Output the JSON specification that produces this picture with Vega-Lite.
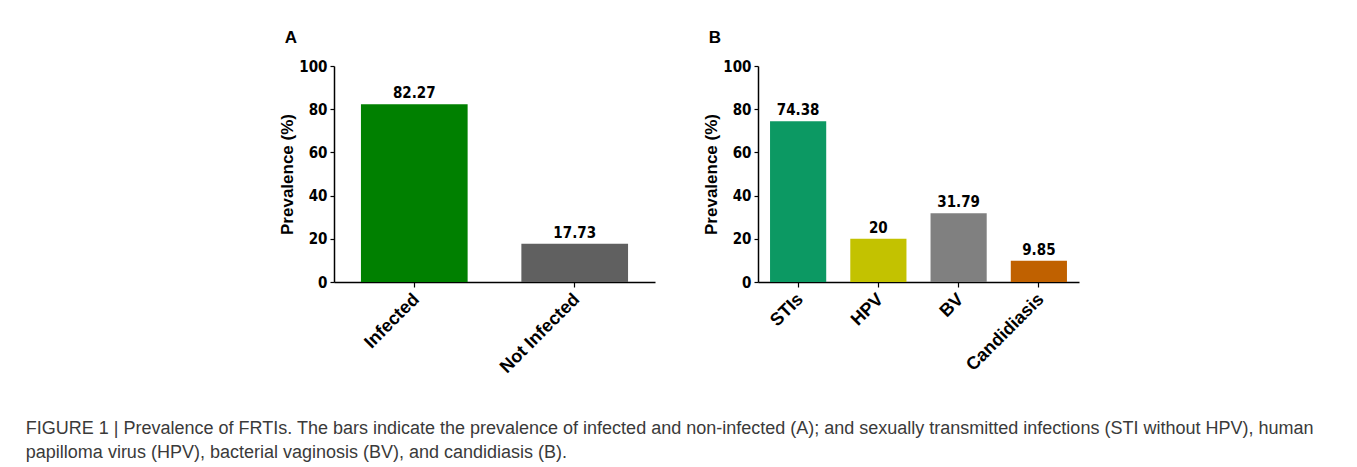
{
  "$schema": "https://vega.github.io/schema/vega-lite/v6.json",
  "background": "white",
  "padding": {"left": 25, "top": 29, "right": 5, "bottom": 0},
  "autosize": {"type": "pad"},
  "datasets": {
    "infection": [
      {"group": "Infected", "prevalence": 82.27},
      {"group": "Not Infected", "prevalence": 17.73}
    ],
    "type": [
      {"group": "STIs", "prevalence": 74.38},
      {"group": "HPV", "prevalence": 20},
      {"group": "BV", "prevalence": 31.79},
      {"group": "Candidiasis", "prevalence": 9.85}
    ]
  },
  "title": {
    "text": [
      "FIGURE 1 | Prevalence of FRTIs. The bars indicate the prevalence of infected and non-infected (A); and sexually transmitted infections (STI without HPV), human",
      "papilloma virus (HPV), bacterial vaginosis (BV), and candidiasis (B)."
    ],
    "orient": "bottom",
    "anchor": "start",
    "frame": "bounds",
    "dx": -253,
    "offset": 44,
    "font": "Liberation Sans",
    "fontSize": 18,
    "fontWeight": "normal",
    "color": "#3a3a3a",
    "lineHeight": 24,
    "limit": 1400
  },
  "spacing": 47,
  "hconcat": [
    {
      "width": 321,
      "height": 216,
      "title": {"text": "A", "anchor": "start", "frame": "bounds", "dx": 6},
      "data": {"name": "infection"},
      "encoding": {
        "x": {
          "field": "group",
          "type": "nominal",
          "sort": null,
          "title": null,
          "scale": {"paddingInner": 0.335, "paddingOuter": 0.168}
        },
        "y": {
          "field": "prevalence",
          "type": "quantitative",
          "title": "Prevalence (%)",
          "scale": {"domain": [0, 100]},
          "axis": {"values": [0, 20, 40, 60, 80, 100]}
        }
      },
      "layer": [
        {
          "mark": {"type": "bar"},
          "encoding": {
            "color": {
              "field": "group",
              "type": "nominal",
              "legend": null,
              "scale": {"domain": ["Infected", "Not Infected"], "range": ["#008000", "#606060"]}
            }
          }
        },
        {
          "mark": {"type": "text", "baseline": "bottom", "dy": -3, "font": "Liberation Sans Narrow, DejaVu Sans Condensed", "fontWeight": "bold", "fontSize": 15, "color": "black"},
          "encoding": {"text": {"field": "prevalence", "type": "quantitative"}}
        }
      ]
    },
    {
      "width": 321,
      "height": 216,
      "title": {"text": "B", "anchor": "start", "frame": "bounds", "dx": 6},
      "data": {"name": "type"},
      "encoding": {
        "x": {
          "field": "group",
          "type": "nominal",
          "sort": null,
          "title": null,
          "scale": {"paddingInner": 0.30, "paddingOuter": 0.15}
        },
        "y": {
          "field": "prevalence",
          "type": "quantitative",
          "title": "Prevalence (%)",
          "scale": {"domain": [0, 100]},
          "axis": {"values": [0, 20, 40, 60, 80, 100]}
        }
      },
      "layer": [
        {
          "mark": {"type": "bar"},
          "encoding": {
            "color": {
              "field": "group",
              "type": "nominal",
              "legend": null,
              "scale": {"domain": ["STIs", "HPV", "BV", "Candidiasis"], "range": ["#0c9963", "#c3c200", "#808080", "#c06100"]}
            }
          }
        },
        {
          "mark": {"type": "text", "baseline": "bottom", "dy": -3, "font": "Liberation Sans Narrow, DejaVu Sans Condensed", "fontWeight": "bold", "fontSize": 15, "color": "black"},
          "encoding": {"text": {"field": "prevalence", "type": "quantitative"}}
        }
      ]
    }
  ],
  "resolve": {"scale": {"color": "independent"}},
  "config": {
    "view": {"stroke": null},
    "title": {"font": "Liberation Sans", "fontSize": 17, "fontWeight": "bold", "color": "black", "offset": 12},
    "axis": {
      "grid": false,
      "domainColor": "black",
      "domainWidth": 1.5,
      "tickColor": "black",
      "tickWidth": 1.2,
      "labelColor": "black",
      "titleColor": "black",
      "titleFont": "Liberation Sans",
      "titleFontWeight": "bold",
      "titleFontSize": 17
    },
    "axisY": {
      "tickSize": 4,
      "labelPadding": 3,
      "labelFont": "Liberation Sans Narrow, DejaVu Sans Condensed",
      "labelFontWeight": "bold",
      "labelFontSize": 15,
      "titlePadding": 2
    },
    "axisX": {
      "tickSize": 5,
      "labelAngle": -45,
      "labelFont": "Liberation Sans",
      "labelFontWeight": "bold",
      "labelFontSize": 18,
      "labelPadding": 3,
      "labelOffset": -4
    }
  }
}
